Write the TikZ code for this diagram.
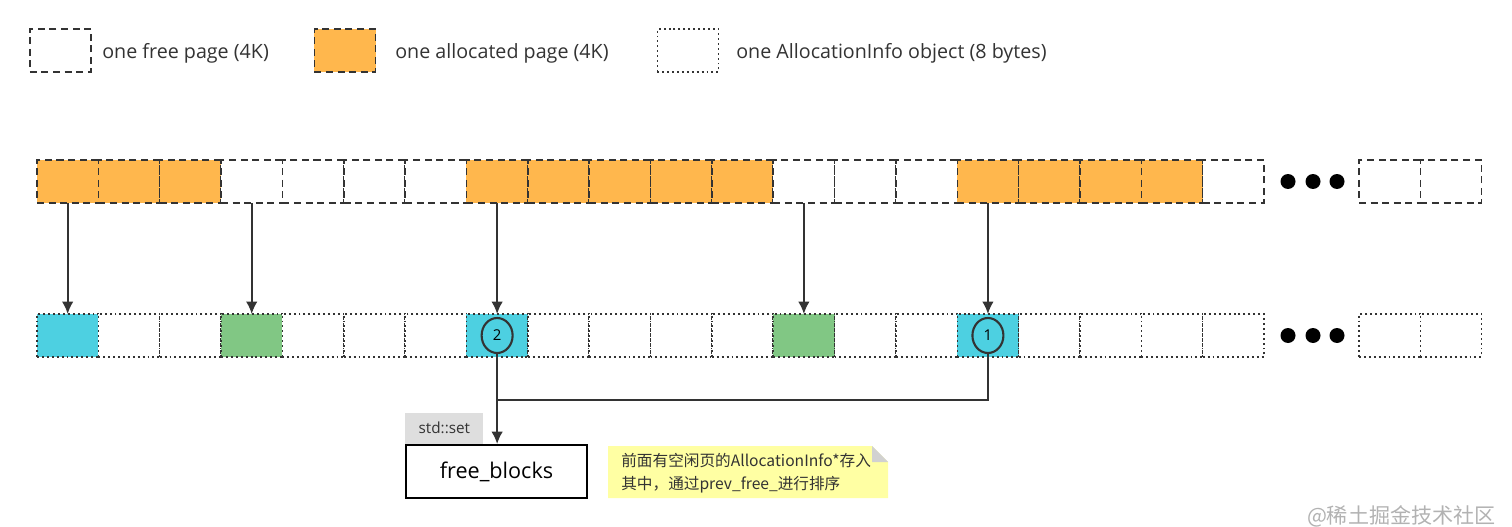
\documentclass[tikz,border=0pt]{standalone}
\usepackage{fontspec}
\setmainfont{Open Sans}
\newfontfamily\cjk{Noto Sans CJK SC}
\usetikzlibrary{shapes.geometric,arrows.meta}
\definecolor{pageorange}{HTML}{FFB74D}
\definecolor{infocyan}{HTML}{4DD0E1}
\definecolor{infogreen}{HTML}{81C784}
\definecolor{noteyellow}{HTML}{FFFFA3}
\definecolor{inkgray}{HTML}{333333}
\tikzset{
  page/.style={draw=inkgray, line width=0.85pt, dash pattern=on 4pt off 2.6pt,
    minimum width=1.227cm, minimum height=0.86cm, inner sep=0pt, outer sep=0pt},
  info/.style={page, dash pattern=on 1.1pt off 1.7pt},
  legtext/.style={anchor=west, inner sep=0pt, text=inkgray, font=\fontsize{11.2}{13}\selectfont},
  link/.style={-{Latex[length=7pt,width=6.5pt]}, line width=1pt, draw=inkgray},
  num/.style={ellipse, draw=inkgray, line width=1.2pt, minimum width=0.62cm, minimum height=0.7cm,
    inner sep=0pt, font=\fontsize{8.5}{9}\selectfont},
  dot/.style={circle, fill=black, minimum size=0.3cm, inner sep=0pt}
}
\begin{document}
\begin{tikzpicture}[x=0.02cm, y=-0.02cm]
  \useasboundingbox (0,0) rectangle (1512,527);
  % legend
  \node[page] (lfree) at (60.5,50.5) {};
  \node[legtext] (lfreetxt) at (102,53) {one free page (4K)};
  \node[page, fill=pageorange] (lalloc) at (345,50.5) {};
  \node[legtext] (lalloctxt) at (395,53) {one allocated page (4K)};
  \node[info] (linfo) at (688,50.5) {};
  \node[legtext] (linfotxt) at (736,53) {one AllocationInfo object (8 bytes)};
  % pages
  \foreach \c [count=\i from 0] in {pageorange,pageorange,pageorange,white,white,white,white,
      pageorange,pageorange,pageorange,pageorange,pageorange,white,white,white,
      pageorange,pageorange,pageorange,pageorange,white}
    \node[page, fill=\c] (t\i) at ({37+61.35*(\i+0.5)},181.5) {};
  \foreach \i in {20,21}
    \node[page, fill=white] (t\i) at ({1359+61.35*(\i-19.5)},181.5) {};
  % allocation infos
  \foreach \c [count=\i from 0] in {infocyan,white,white,infogreen,white,white,white,
      infocyan,white,white,white,white,infogreen,white,white,
      infocyan,white,white,white,white}
    \node[info, fill=\c] (b\i) at ({37+61.35*(\i+0.5)},335.5) {};
  \foreach \i in {20,21}
    \node[info, fill=white] (b\i) at ({1359+61.35*(\i-19.5)},335.5) {};
  \foreach \x [count=\k] in {1288,1313,1337} {
    \node[dot] (tdot\k) at (\x,181.5) {};
    \node[dot] (bdot\k) at (\x,335.5) {};
  }
  \foreach \i in {0,3,7,12,15}
    \draw[link] (t\i.south) -- (b\i.north);
  \node[num] (c2) at (b7) {2};
  \node[num] (c1) at (b15) {1};
  % free_blocks
  \node[draw=black, line width=1.1pt, minimum width=3.62cm, minimum height=1.06cm,
    font=\fontsize{12.3}{14}\selectfont] (fb) at (496.5,471.5) {free\_blocks};
  \node[fill=black!13, anchor=south west, minimum width=1.56cm, minimum height=0.62cm, inner sep=0pt,
    text=inkgray, font=\fontsize{8.7}{10}\selectfont] (stdset) at (fb.north west) {std::set};
  \coordinate (join) at (c2.south |- 0,400);
  \draw[link] (c2.south) -- (c2.south |- fb.north);
  \draw[line width=1pt, draw=inkgray] (c1.south) |- (join);
  % note
  \coordinate (notenw) at (608,446);
  \coordinate (notese) at (888,498);
  \fill[noteyellow] (notenw) -- (872,446) -- (888,462) -- (notese) -- (notenw |- notese) -- cycle;
  \fill[black!18] (872,446) -- (888,462) -- (872,462) -- cycle;
  \node[anchor=west, align=left, inner sep=0pt, text=inkgray,
    font=\cjk\fontsize{8.9}{13}\selectfont] (note) at (621,473)
    {前面有空闲页的AllocationInfo*存入\\其中，通过prev\_free\_进行排序};
  \node[anchor=east, inner sep=0pt, text=black!30, font=\cjk\fontsize{12}{14}\selectfont]
    (mark) at (1496,516) {@稀土掘金技术社区};
\end{tikzpicture}
\end{document}
